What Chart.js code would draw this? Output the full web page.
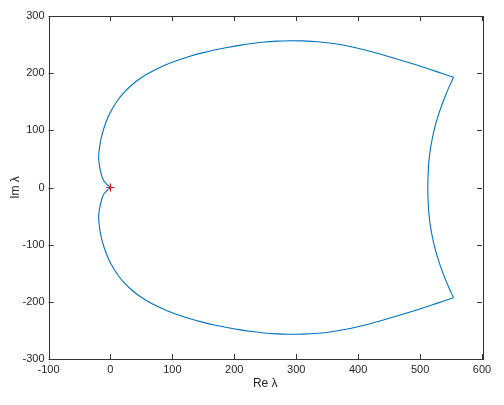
<!DOCTYPE html>
<html>
<head>
<meta charset="utf-8">
<script src="https://cdn.jsdelivr.net/npm/chart.js@4"></script>
<style>
  html, body { margin: 0; padding: 0; background: #fff; }
  #wrap { width: 504px; height: 405px; }
</style>
</head>
<body>
<div id="wrap"><canvas id="locus"></canvas></div>
<script>
// eigenvalue locus, split into three smooth pieces
// upper arc: origin -> upper corner
const upperRe = [0, -6, -11.5, -16.3, -19, -18.2, -15.2, -10.2, -3, 4.2, 12.6, 21.7, 32.6, 45.1, 58.6, 74.1, 91.5, 109.9, 129.8,
  148.2, 167.7, 188.4, 210, 229.2, 248.7, 268.2, 288.2, 310, 335, 357.5, 385, 411.3, 438, 465, 492, 519, 537, 554];
const upperIm = [0, 6, 13, 30, 50, 65, 85, 105, 125, 140, 154, 166, 177.6, 188.5, 198, 207, 215.5, 223, 230,
  235.5, 240.5, 245, 249, 252, 254.5, 256, 256.8, 256.5, 255, 252.2, 247, 240.5, 232.5, 224, 215, 205.5, 199, 193];
// right side: upper corner -> lower corner
const rightRe = [554, 542.5, 532.3, 524, 518.3, 515.4, 513.6, 512.5, 513.6, 515.4, 518.3, 524, 532.3, 542.5, 554];
const rightIm = [193, 165, 135.7, 106, 77.5, 57, 36.5, 0, -36.5, -57, -77.5, -106, -135.7, -165, -193];
// lower arc: lower corner -> origin
const lowerRe = [554, 537, 519, 492, 465, 438, 411.3, 385, 357.5, 335, 310, 288.2, 268.2, 248.7, 229.2, 210, 188.4, 167.7, 148.2,
  129.8, 109.9, 91.5, 74.1, 58.6, 45.1, 32.6, 21.7, 12.6, 4.2, -3, -10.2, -15.2, -18.2, -19, -16.3, -11.5, -6, 0];
const lowerIm = [-193, -199, -205.5, -215, -224, -232.5, -240.5, -247, -252.2, -255, -256.5, -256.8, -256, -254.5, -252, -249, -245, -240.5, -235.5,
  -230, -223, -215.5, -207, -198, -188.5, -177.6, -166, -154, -140, -125, -105, -85, -65, -50, -30, -13, -6, 0];

// marked point
const markX = [0];
const markY = [0];

const xTicks = [-100, 0, 100, 200, 300, 400, 500, 600];
const yTicks = [-300, -200, -100, 0, 100, 200, 300];

const axisColor = '#333333';
const lineColor = '#0072BD';
const txtFont = { family: 'Liberation Sans, Arial, sans-serif', size: 11 };

const toPts = (xs, ys) => xs.map((x, i) => ({ x: x, y: ys[i] }));

function piece(xs, ys) {
  return {
    data: toPts(xs, ys),
    showLine: true,
    borderColor: lineColor,
    borderWidth: 1.1,
    pointRadius: 0,
    tension: 0.35,
    fill: false
  };
}

// box around plot with inward ticks on every side
const boxTicks = {
  id: 'boxTicks',
  afterDraw(chart) {
    const { ctx, chartArea: a, scales } = chart;
    const len = 5;
    ctx.save();
    ctx.strokeStyle = axisColor;
    ctx.lineWidth = 1;
    ctx.strokeRect(Math.round(a.left) + 0.5, Math.round(a.top) + 0.5,
      Math.round(a.right - a.left), Math.round(a.bottom - a.top));
    ctx.beginPath();
    xTicks.forEach(v => {
      const px = Math.round(scales.x.getPixelForValue(v)) + 0.5;
      ctx.moveTo(px, a.bottom); ctx.lineTo(px, a.bottom - len);
      ctx.moveTo(px, a.top); ctx.lineTo(px, a.top + len);
    });
    yTicks.forEach(v => {
      const py = Math.round(scales.y.getPixelForValue(v)) + 0.5;
      ctx.moveTo(a.left, py); ctx.lineTo(a.left + len, py);
      ctx.moveTo(a.right, py); ctx.lineTo(a.right - len, py);
    });
    ctx.stroke();
    ctx.restore();
  }
};

const config = {
  type: 'scatter',
  data: {
    datasets: [
      piece(upperRe, upperIm),
      piece(rightRe, rightIm),
      piece(lowerRe, lowerIm),
      {
        data: toPts(markX, markY),
        pointStyle: 'cross',
        pointRadius: 4,
        borderColor: '#ff0000',
        borderWidth: 1.2,
        backgroundColor: '#ff0000'
      }
    ]
  },
  options: {
    responsive: false,
    animation: false,
    layout: { padding: { left: 0, right: 22, top: 16, bottom: 0 } },
    plugins: { legend: { display: false }, tooltip: { enabled: false } },
    scales: {
      x: {
        type: 'linear',
        min: -100, max: 600,
        afterBuildTicks: s => { s.ticks = xTicks.map(v => ({ value: v })); },
        afterFit: s => { s.height = 46; },
        ticks: { color: '#262626', font: txtFont, padding: 4, maxRotation: 0 },
        grid: { drawOnChartArea: false, drawTicks: false },
        border: { display: false },
        title: { display: true, text: 'Re λ', color: '#262626', font: { family: txtFont.family, size: 12 }, padding: { top: 2, bottom: 14 } }
      },
      y: {
        type: 'linear',
        min: -300, max: 300,
        afterBuildTicks: s => { s.ticks = yTicks.map(v => ({ value: v })); },
        afterFit: s => { s.width = 48.5; },
        ticks: { color: '#262626', font: txtFont, padding: 4 },
        grid: { drawOnChartArea: false, drawTicks: false },
        border: { display: false },
        title: { display: true, text: 'Im λ', color: '#262626', font: { family: txtFont.family, size: 12 }, padding: { top: 8, bottom: 0 } }
      }
    }
  },
  plugins: [boxTicks]
};

const canvas = document.getElementById('locus');
canvas.width = 504;
canvas.height = 405;
const locusChart = new Chart(canvas, config);
</script>
</body>
</html>
